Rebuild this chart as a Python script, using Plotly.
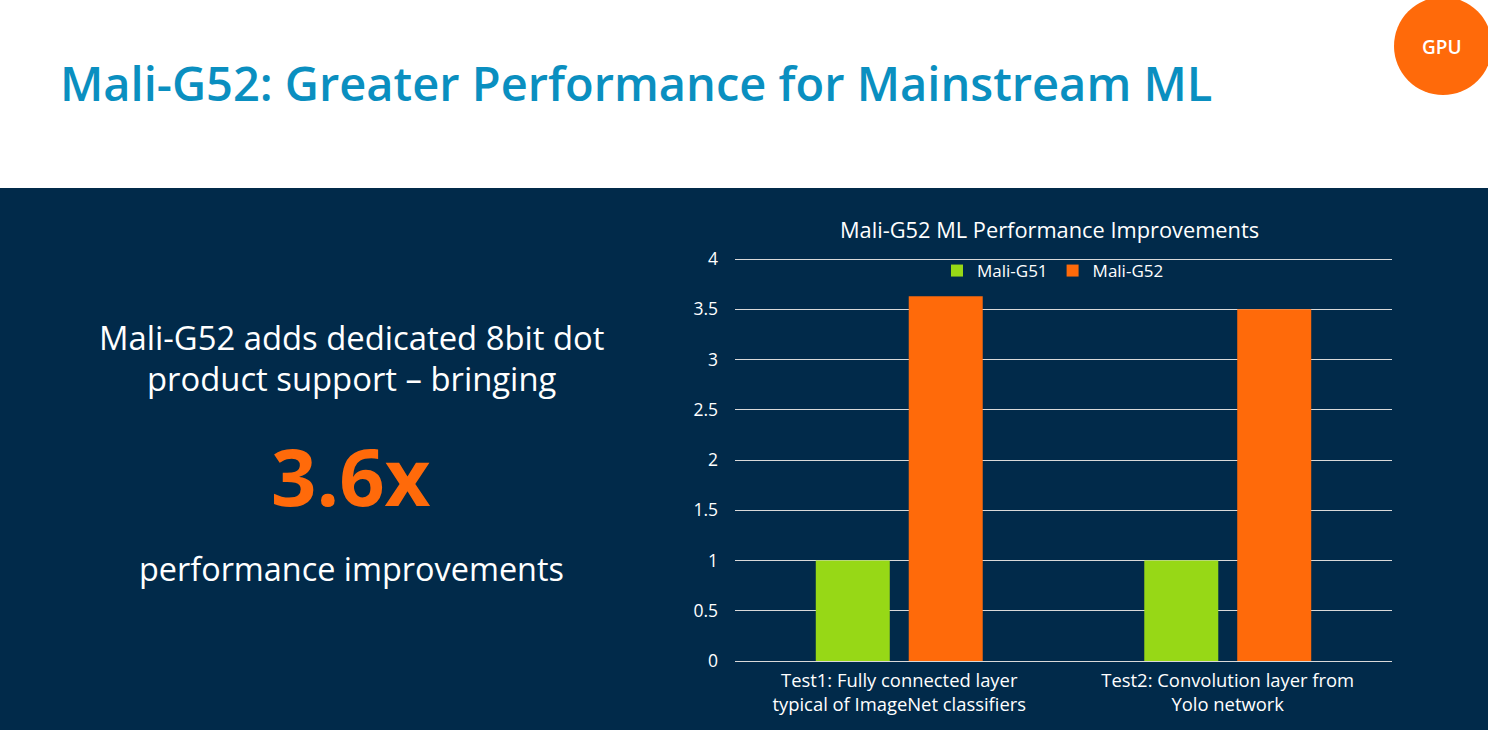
import plotly.graph_objects as go

W, H = 1488, 730

categories = [
    "Test1: Fully connected layer<br>typical of ImageNet classifiers",
    "Test2: Convolution layer from<br>Yolo network",
]
mali_g51 = [1, 1]
mali_g52 = [3.63, 3.5]
tick_vals = [0, 0.5, 1, 1.5, 2, 2.5, 3, 3.5, 4]
tick_text = ["0", "0.5", "1", "1.5", "2", "2.5", "3", "3.5", "4"]

NAVY = "#012a4a"
ORANGE = "#ff6a0a"
GREEN = "#97d816"
BLUE = "#0a8fc0"
GRID = "#d9d9d9"
FONT = "Open Sans"

# plot area in page pixels, the top sits 2px over the "4" gridline so plotly keeps that line
LEFT, RIGHT, TOP, BOTTOM = 735, 1392, 257, 661


def px(x):
    return (x - LEFT) / (RIGHT - LEFT)


def py(y):
    return (BOTTOM - y) / (BOTTOM - TOP)


def label(text, x, y, size, color="white", weight=400):
    return dict(
        text=text,
        x=px(x), y=py(y), xref="paper", yref="paper",
        xanchor="center", yanchor="middle", showarrow=False,
        font=dict(family=FONT, size=size, color=color, weight=weight),
    )


fig = go.Figure()
fig.add_bar(name="Mali-G51", x=categories, y=mali_g51, marker_color=GREEN, marker_line_width=0)
fig.add_bar(name="Mali-G52", x=categories, y=mali_g52, marker_color=ORANGE, marker_line_width=0)

fig.update_layout(
    width=W, height=H,
    margin=dict(l=LEFT, r=W - RIGHT, t=TOP, b=H - BOTTOM),
    paper_bgcolor="white",
    plot_bgcolor=NAVY,
    barmode="group",
    bargap=0.434,
    bargroupgap=0.204,
    font=dict(family=FONT, color="white", size=16),
    legend=dict(
        orientation="h", x=px(1053), y=py(271),
        xanchor="center", yanchor="middle",
        font=dict(size=17, color="white"), bgcolor="rgba(0,0,0,0)",
    ),
    shapes=[
        dict(type="rect", xref="paper", yref="paper",
             x0=px(0), x1=px(W), y0=py(H), y1=py(188),
             fillcolor=NAVY, line_width=0, layer="below"),
        dict(type="circle", xref="paper", yref="paper",
             x0=px(1394), x1=px(1492), y0=py(95), y1=py(-3),
             fillcolor=ORANGE, line_width=0, layer="below"),
    ],
    annotations=[
        label("Mali-G52: Greater Performance for Mainstream ML", 636, 83, 47, BLUE, 600),
        label("GPU", 1442, 47, 19, "white", 600),
        label("Mali-G52 adds dedicated 8bit dot", 351, 337, 32.8),
        label("product support – bringing", 351, 378, 32.8),
        label("3.6x", 351, 475, 79.5, ORANGE, 700),
        label("performance improvements", 351, 568, 32.4),
        label("Mali-G52 ML Performance Improvements", 1049, 230, 21.8),
    ],
    xaxis=dict(
        showgrid=False, zeroline=False,
        showline=False, ticks="", ticklabelstandoff=7,
        tickfont=dict(size=18.4, color="white"),
    ),
    yaxis=dict(
        range=[0, 4.02],
        tickvals=tick_vals, ticktext=tick_text,
        showgrid=True, gridcolor=GRID, gridwidth=1,
        zeroline=True, zerolinecolor=GRID, zerolinewidth=1,
        ticks="", ticklabelstandoff=16,
        tickfont=dict(size=17.5, color="white"),
    ),
)

fig.write_html(
    "out.html",
    config=dict(displayModeBar=False),
    post_script="document.body.style.margin='0';",
)
